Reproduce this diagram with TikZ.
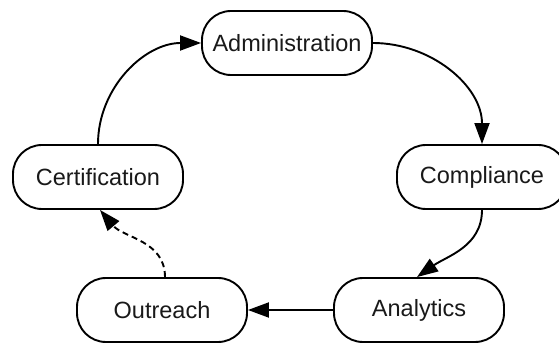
\documentclass[tikz,border=0pt]{standalone}
\usepackage{fontspec}
\setmainfont{Liberation Sans}
\usetikzlibrary{arrows.meta}
\begin{document}
\begin{tikzpicture}[x=1pt,y=-1pt,
  stage/.style={draw, line width=1.9pt, rounded corners=29pt,
    minimum width=170pt, minimum height=64pt, inner sep=0pt,
    font=\fontsize{23.5}{28}\selectfont, text=black!90},
  flow/.style={line width=1.9pt, -{Triangle[length=21pt,width=15pt]}},
  optional/.style={flow, dash pattern=on 6pt off 4pt},
]
\useasboundingbox (0,0) rectangle (559,344);

% process stages
\node[stage] (adm) at (287,43)  {Administration};
\node[stage] (com) at (482,177) {Compliance};
\node[stage] (ana) at (419,310) {Analytics};
\node[stage] (out) at (162,310) {Outreach};
\node[stage] (cer) at (98,177)  {Certification};

% cycle connectors
\draw[flow] (adm.east) to[out=0,in=90] (com.north);
\draw[flow] (com.south) to[out=-90,in=35] ([xshift=-2pt]ana.north);
\draw[flow] (ana.west) -- (out.east);
\draw[optional] ([xshift=3pt]out.north) to[out=90,in=-50] ([xshift=2pt]cer.south);
\draw[flow] (cer.north) to[out=90,in=180] (adm.west);
\end{tikzpicture}
\end{document}
